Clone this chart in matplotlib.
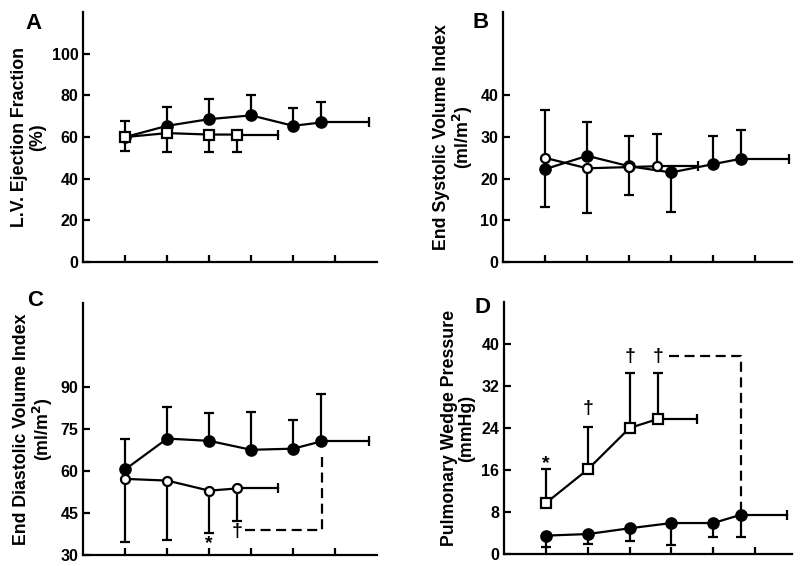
import numpy as np
import matplotlib
matplotlib.use("Agg")
import matplotlib.pyplot as plt

plt.rcParams['font.family'] = ['Liberation Sans', 'DejaVu Sans']
plt.rcParams['font.weight'] = 'bold'

# ---- data (values, error-bar ends, annotations) ----
# Panel A: L.V. ejection fraction (%)
a_fx = [1, 2, 3, 4, 5, 5.67]
a_fy = [60, 65.4, 68.6, 70.4, 65.4, 67.0]
a_f_hi = [67.5, 74.4, 78.5, 80.3, 73.9, 76.8]
a_f_lo = [None, None, None, None, None, None]
a_f_end = 6.8
a_ox = [1, 2, 3, 3.67]
a_oy = [60, 61.9, 61.2, 61.2]
a_o_hi = [None, None, None, None]
a_o_lo = [53.5, 52.6, 52.6, 52.6]
a_o_end = 4.64

# Panel B: end systolic volume index (ml/m2)
b_fx = [1, 2, 3, 4, 5, 5.67]
b_fy = [22.3, 25.5, 23.0, 21.5, 23.5, 24.8]
b_f_hi = [None, 33.7, 30.2, None, 30.3, 31.8]
b_f_lo = [13.2, None, None, 12.1, None, None]
b_f_end = 6.8
b_ox = [1, 2, 3, 3.67]
b_oy = [25.0, 22.5, 22.8, 23.0]
b_o_hi = [36.4, None, None, 30.7]
b_o_lo = [None, 11.7, 16.1, None]
b_o_end = 4.64

# Panel C: end diastolic volume index (ml/m2)
c_fx = [1, 2, 3, 4, 5, 5.67]
c_fy = [60.6, 71.6, 70.8, 67.6, 68.0, 70.6]
c_f_hi = [71.4, 82.8, 80.6, 81.2, 78.4, 87.6]
c_f_lo = [None, None, None, None, None, None]
c_f_end = 6.8
c_ox = [1, 2, 3, 3.67]
c_oy = [57.2, 56.6, 53.0, 53.8]
c_o_hi = [None, None, None, None]
c_o_lo = [34.6, 35.2, 38.0, 42.2]
c_o_end = 4.64
c_marks = [("*", 3, 34.2), ("\u2020", 3.67, 38.3)]
c_bracket_x = [3.86, 5.68, 5.68]
c_bracket_y = [39.0, 39.0, 66.6]

# Panel D: pulmonary wedge pressure (mmHg)
d_fx = [1, 2, 3, 4, 5, 5.67]
d_fy = [3.5, 3.8, 4.9, 5.9, 5.9, 7.5]
d_f_hi = [None, None, None, None, None, None]
d_f_lo = [1.4, 2.0, 2.4, 1.7, 3.2, 3.2]
d_f_end = 6.77
d_ox = [1, 2, 3, 3.67]
d_oy = [9.7, 16.1, 24.0, 25.7]
d_o_hi = [16.1, 24.1, 34.5, 34.5]
d_o_lo = [None, None, None, None]
d_o_end = 4.62
d_marks = [("*", 1, 17.2), ("\u2020", 2, 27.8), ("\u2020", 3, 37.6), ("\u2020", 3.67, 37.6)]
d_bracket_x = [3.93, 5.65, 5.65]
d_bracket_y = [37.8, 37.8, 8.4]

LW = 1.6


def draw_bars(ax, x, y, hi, lo):
    for xi, yi, h, l in zip(x, y, hi, lo):
        if h is not None:
            ax.errorbar([xi], [yi], yerr=[[0], [h - yi]], fmt='none', ecolor='black',
                        elinewidth=LW, capsize=3.5, capthick=LW, zorder=2)
        if l is not None:
            ax.errorbar([xi], [yi], yerr=[[yi - l], [0]], fmt='none', ecolor='black',
                        elinewidth=LW, capsize=3.5, capthick=LW, zorder=2)


def draw_series(ax, x, y, hi, lo, end, filled, marker):
    draw_bars(ax, x, y, hi, lo)
    ax.plot(x, y, color='black', lw=LW, zorder=3)
    ax.plot([x[-1], end], [y[-1], y[-1]], color='black', lw=LW, zorder=3)
    ax.plot([end], [y[-1]], marker='|', color='black', markersize=7, mew=LW, zorder=3)
    ax.plot(x, y, ls='none', marker=marker, markersize=7.5 if filled else 6.5,
            markerfacecolor='black' if filled else 'white', markeredgecolor='black',
            markeredgewidth=LW, zorder=4)


def style_axes(ax, ylim, yticks, xmax, ylabel, letter, lx, ly):
    ax.set_xlim(0, xmax)
    ax.set_ylim(*ylim)
    ax.set_xticks([1, 2, 3, 4, 5, 6])
    ax.set_xticklabels([])
    ax.set_yticks(yticks)
    ax.set_yticklabels([str(t) for t in yticks], fontsize=11.5, fontweight='bold')
    ax.tick_params(direction='in', length=5, width=LW)
    for s in ['top', 'right']:
        ax.spines[s].set_visible(False)
    for s in ['left', 'bottom']:
        ax.spines[s].set_linewidth(LW)
    ax.set_ylabel(ylabel, fontsize=12.8, fontweight='bold', labelpad=4, linespacing=1.05)
    ax.text(lx, ly, letter, transform=ax.transAxes, fontsize=16, fontweight='bold',
            ha='center', va='center')


fig = plt.figure(figsize=(8, 5.66), dpi=100)
axA = fig.add_axes([0.104, 0.537, 0.3675, 0.4417])
axB = fig.add_axes([0.629, 0.537, 0.361, 0.4417])
axC = fig.add_axes([0.104, 0.0194, 0.3675, 0.445])
axD = fig.add_axes([0.63, 0.0212, 0.36, 0.4452])

draw_series(axA, a_fx, a_fy, a_f_hi, a_f_lo, a_f_end, True, 'o')
draw_series(axA, a_ox, a_oy, a_o_hi, a_o_lo, a_o_end, False, 's')
style_axes(axA, (0, 120), [0, 20, 40, 60, 80, 100], 7.0,
           "L.V. Ejection Fraction\n(%)", "A", -0.17, 0.956)

draw_series(axB, b_fx, b_fy, b_f_hi, b_f_lo, b_f_end, True, 'o')
draw_series(axB, b_ox, b_oy, b_o_hi, b_o_lo, b_o_end, False, 'o')
style_axes(axB, (0, 60), [0, 10, 20, 30, 40], 6.88,
           "End Systolic Volume Index\n(ml/m$\\mathbf{^2}$)", "B", -0.08, 0.96)

draw_series(axC, c_fx, c_fy, c_f_hi, c_f_lo, c_f_end, True, 'o')
draw_series(axC, c_ox, c_oy, c_o_hi, c_o_lo, c_o_end, False, 'o')
axC.plot(c_bracket_x, c_bracket_y, color='black', lw=LW, ls=(0, (4.5, 2.5)), zorder=1)
for t, x, y in c_marks:
    axC.text(x, y, t, ha='center', va='center', fontsize=14, fontweight='bold')
style_axes(axC, (30, 120), [30, 45, 60, 75, 90], 7.0,
           "End Diastolic Volume Index\n(ml/m$\\mathbf{^2}$)", "C", -0.163, 1.01)

draw_series(axD, d_fx, d_fy, d_f_hi, d_f_lo, d_f_end, True, 'o')
draw_series(axD, d_ox, d_oy, d_o_hi, d_o_lo, d_o_end, False, 's')
axD.plot(d_bracket_x, d_bracket_y, color='black', lw=LW, ls=(0, (4.5, 2.5)), zorder=1)
for t, x, y in d_marks:
    axD.text(x, y, t, ha='center', va='center', fontsize=14, fontweight='bold')
style_axes(axD, (0, 48), [0, 8, 16, 24, 32, 40], 6.88,
           "Pulmonary Wedge Pressure\n(mmHg)", "D", -0.075, 0.98)

fig.savefig("out.png", dpi=100)
